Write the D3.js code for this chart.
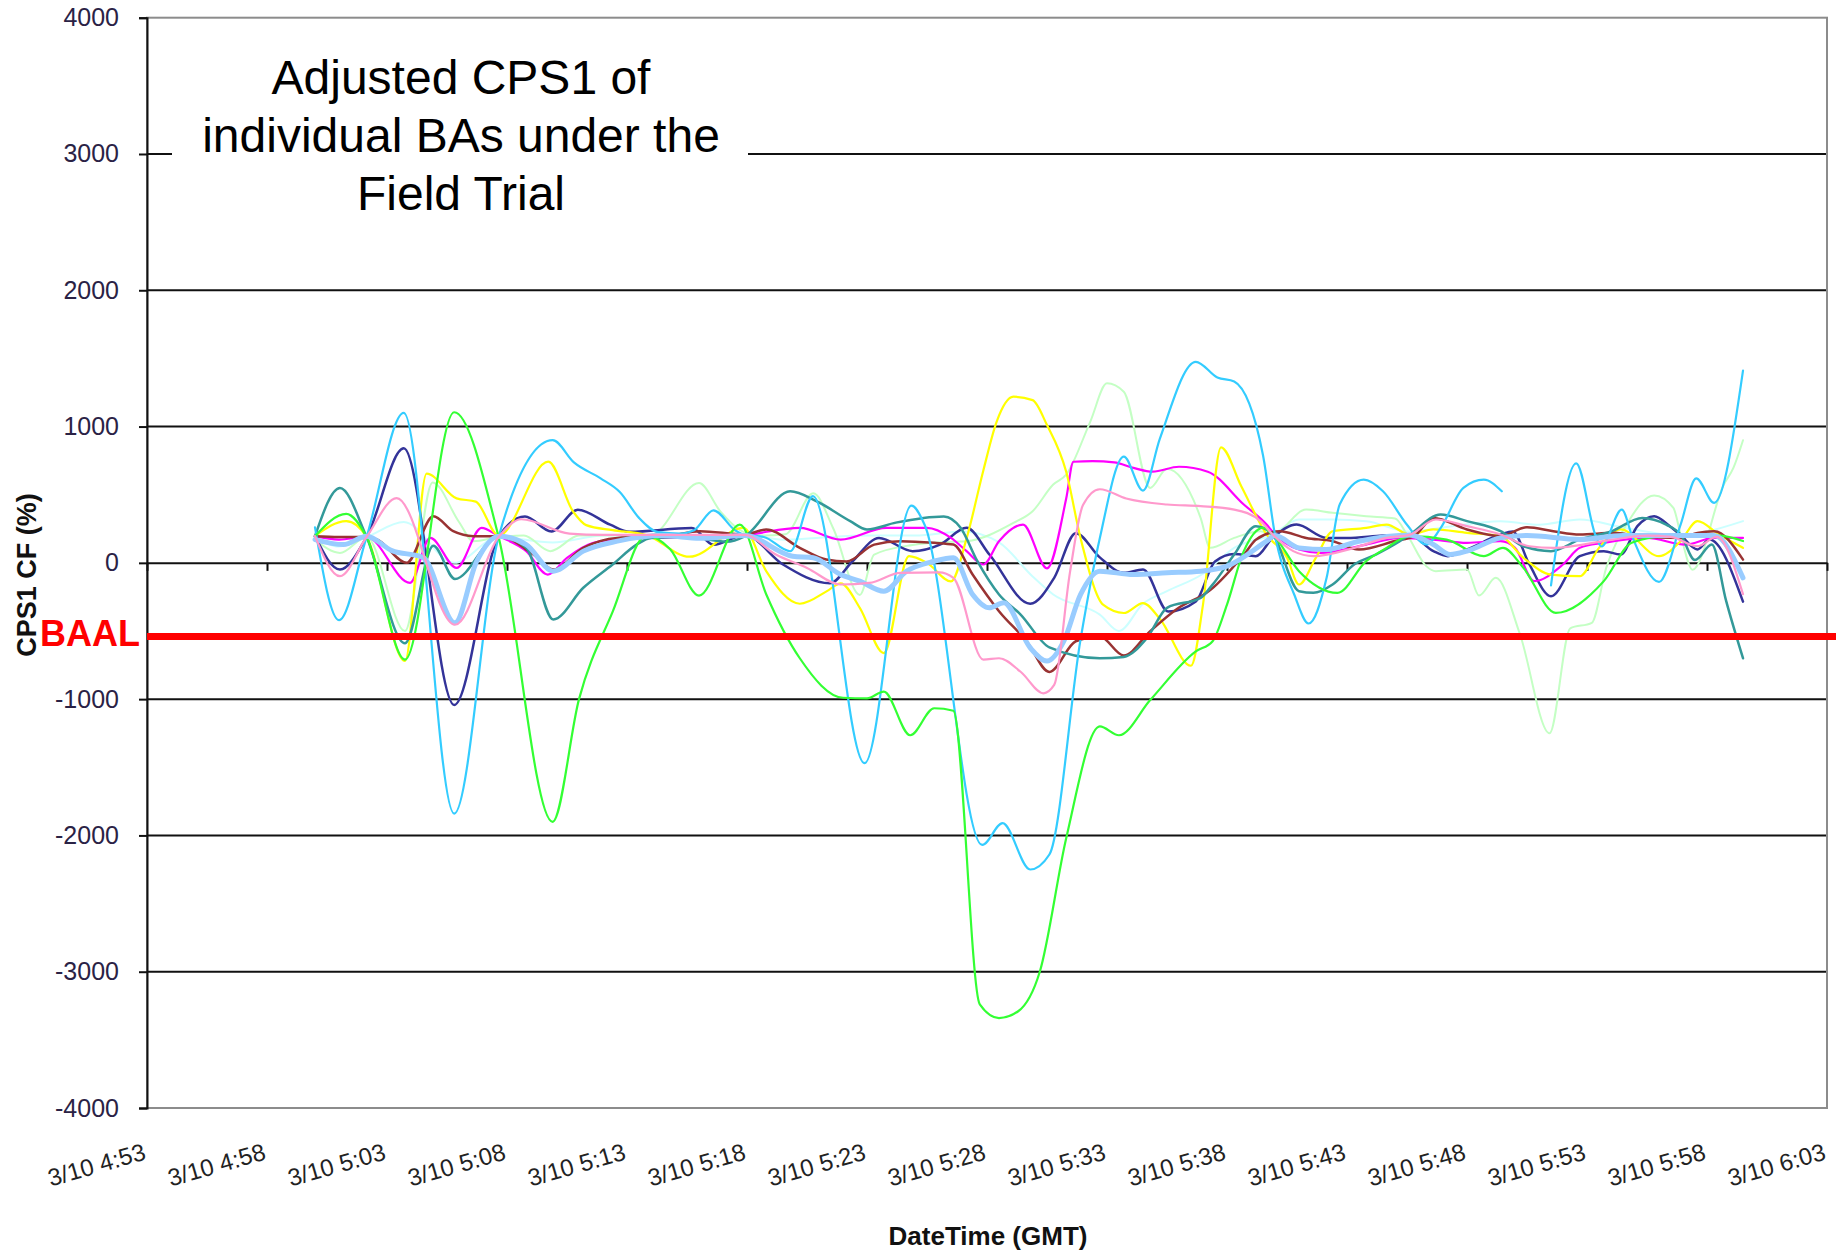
<!DOCTYPE html>
<html><head><meta charset="utf-8">
<script src="https://cdn.jsdelivr.net/npm/d3@7"></script>
<style>html,body{margin:0;padding:0;background:#fff;} svg{display:block;}</style>
</head><body>
<svg id="chart" width="1848" height="1256"></svg>
<script>
// ---------- data ----------
// x values: minutes after 3/10 5:00 (GMT); y values: CPS1 CF (%)
const yTicks = [-4000, -3000, -2000, -1000, 0, 1000, 2000, 3000, 4000];
const xTickMinutes = [-7, -2, 3, 8, 13, 18, 23, 28, 33, 38, 43, 48, 53, 58, 63];
const xTickLabels = ["3/10 4:53", "3/10 4:58", "3/10 5:03", "3/10 5:08", "3/10 5:13", "3/10 5:18", "3/10 5:23",
  "3/10 5:28", "3/10 5:33", "3/10 5:38", "3/10 5:43", "3/10 5:48", "3/10 5:53", "3/10 5:58", "3/10 6:03"];
const baalValue = -540;

const lightCyan = [[0,196],[1,120],[2.15,190],[3.7,300],[5.8,0],[7.65,190],[9.9,150],[12,200],[17.9,205],[19.5,170],[20.9,183],[23,200],[25,200],[27,230],[28.5,150],[29.9,-100],[30.76,-232],[32.7,-380],[33.5,-500],[34.5,-300],[35.5,-208],[37,-80],[38.3,110],[39.9,208],[41,318],[42.4,318],[43.8,306],[45.6,230],[47,260],[49.4,306],[51,280],[52.7,318],[54.5,260],[56.9,200],[58,230],[59.5,306]];
const lightGreen = [[0,171],[1.04,73],[2.15,190],[3.75,-500],[4.9,590],[6,300],[6.6,159],[7.65,190],[8.7,200],[9.8,86],[11,200],[14,205],[16,585],[16.9,375],[17.7,241],[18.5,200],[19.6,210],[20.76,510],[21.6,250],[22.7,-235],[23.3,61],[24.9,131],[26.6,155],[27.15,159],[29.1,293],[29.9,379],[30.76,575],[31.3,648],[32.3,1035],[33,1317],[33.7,1255],[34.8,550],[35.5,690],[36.9,330],[37.3,110],[38.3,183],[39.4,232],[39.9,208],[41.3,391],[42.4,367],[43.8,342],[45,326],[45.5,208],[46.3,-24],[46.7,-61],[48,-49],[48.5,-240],[49.2,-110],[50.2,-520],[51.44,-1250],[52.3,-480],[53.2,-440],[53.8,-37],[54.65,281],[55.8,495],[56.6,403],[56.9,208],[57.4,-50],[58.7,575],[59.1,697],[59.5,900]];
const navy = [[0,196],[1.04,-49],[2.15,190],[3.7,840],[5.8,-1043],[7.65,190],[8.75,340],[9.85,230],[10.95,390],[12.3,280],[13.1,228],[15.7,255],[16.6,133],[17.9,205],[19.5,-12],[21.45,-150],[22.4,12],[23.5,183],[24.9,86],[26.04,134],[27.15,257],[28.1,61],[29.8,-300],[30.8,-110],[31.7,218],[32.7,40],[33.7,-73],[34.5,-49],[35.55,-357],[36.7,-283],[37.5,10],[38.3,65],[39.2,49],[39.9,183],[40.9,281],[42.15,183],[43,183],[44.5,200],[45.6,205],[46.6,86],[47.2,49],[48,98],[49.4,208],[49.9,230],[50.6,-12],[51.5,-245],[52.7,49],[53.7,86],[54.4,61],[55.1,269],[55.8,342],[56.45,269],[56.9,205],[57.6,98],[58.1,171],[59.5,-285]];
const magenta = [[0,196],[1,171],[2.15,190],[3.96,-147],[4.8,183],[5.9,-37],[6.94,257],[7.65,196],[8.8,86],[9.7,-86],[10.5,37],[11.6,147],[12.6,171],[17.9,205],[20.2,257],[21.9,171],[23.8,257],[25.5,257],[26.5,183],[27.15,86],[27.85,-12],[28.5,159],[29.5,281],[30.5,-40],[31.3,472],[31.6,742],[32.4,746],[33.3,737],[34.1,697],[34.9,669],[36,705],[37.2,669],[38.7,428],[39.65,281],[39.9,229],[41,98],[41.9,73],[43.8,134],[45.2,183],[46.6,171],[48,147],[49.4,159],[50,110],[50.8,-134],[52,-12],[52.7,110],[53.7,147],[55.5,183],[57.1,134],[58.3,183],[59.5,183]];
const yellow = [[0,196],[1.3,306],[2.15,190],[3.75,-720],[4.65,655],[5.9,473],[6.7,449],[7.65,200],[9.72,742],[10.76,375],[11.3,277],[12.4,240],[13.8,204],[15.6,45],[17.85,257],[18.8,-61],[20.2,-300],[21.4,-200],[21.9,-150],[22.7,-330],[23.7,-662],[24.75,50],[25.5,0],[26.5,-136],[27.15,180],[27.85,680],[28.4,1035],[29.1,1219],[29.9,1194],[30.5,1011],[31.3,668],[31.9,180],[32.85,-309],[33.7,-368],[34.5,-295],[35.2,-410],[36.5,-755],[37,-306],[37.75,848],[38.6,560],[39.65,208],[40.5,37],[41,-159],[41.7,37],[42.4,232],[43.8,257],[44.65,281],[45.6,208],[46.6,245],[48,220],[49.4,196],[50.35,37],[51.5,-86],[52.7,-98],[53.5,110],[54.4,245],[56,49],[56.9,159],[57.6,306],[58.5,208],[59.5,110]];
const maroon = [[0,196],[1,190],[2.15,190],[2.6,170],[3.82,0],[4.93,342],[5.76,232],[6.6,196],[7.65,196],[9.1,61],[9.93,-49],[11.18,110],[12.6,183],[14.65,196],[16.04,232],[17.9,208],[18.8,245],[20.2,110],[21.3,24],[22.15,10],[23.3,134],[24.4,159],[25.8,147],[26.6,134],[27.4,-86],[28.5,-355],[29.65,-575],[30.6,-800],[31.7,-575],[32.7,-540],[33.7,-680],[34.8,-501],[35.9,-340],[37.3,-200],[38.8,82],[39.2,170],[40.2,232],[41.3,183],[42.4,159],[43.5,98],[45,160],[45.8,196],[46.6,330],[48,245],[49.4,196],[50.5,262],[51.6,232],[52.7,208],[54.1,220],[55.2,196],[56.9,183],[57.6,220],[58.3,232],[59.5,24]];
const teal = [[0,196],[1.04,550],[2.15,190],[3.75,-590],[4.93,125],[5.83,-118],[7.65,196],[8.8,110],[9.93,-416],[11.18,-183],[12.4,-12],[13.4,134],[14,183],[15.5,190],[17.15,155],[17.9,195],[19.8,525],[20.9,452],[22.3,306],[23,245],[24.2,295],[26.2,340],[26.9,257],[27.6,12],[28.5,-232],[29.4,-379],[30.6,-620],[32.7,-700],[33.7,-690],[34.65,-554],[35.5,-330],[36.9,-257],[37.4,-160],[38.3,61],[39.2,269],[39.9,208],[41,-208],[41.6,-220],[42.4,-159],[43.3,-12],[44.2,61],[45.2,159],[45.6,205],[46.9,355],[48,306],[49.4,232],[50.35,122],[51.5,86],[52.7,171],[54,230],[55.3,330],[56.3,281],[56.9,208],[57.5,20],[58.2,134],[58.8,-281],[59.5,-700]];
const skyBlue = [[0,260],[1,-420],[2.15,190],[3.7,1100],[5.8,-1840],[7.65,190],[9.9,900],[10.8,735],[11.9,620],[12.7,520],[13.5,330],[14.3,225],[15.2,215],[15.8,240],[16.6,385],[17.5,240],[17.9,205],[18.7,190],[19.8,85],[20.75,490],[22.9,-1470],[24.85,420],[25.4,280],[27.8,-2070],[28.65,-1910],[29.8,-2250],[30.6,-2140],[31.9,-560],[32.7,180],[33.7,780],[34.5,530],[35.2,910],[36.7,1475],[37.6,1360],[38.3,1330],[39.5,790],[40,205],[40.8,-232],[41.4,-445],[42.15,-110],[42.7,430],[43.7,610],[44.5,525],[45.5,280],[46.3,135],[46.9,255],[47.85,550],[48.7,610],[49.45,525],null,[51.5,-165],[52.55,730],[53.35,204],[53.6,120],[54.45,390],[54.9,185],[56,-140],[56.9,280],[57.55,620],[58.3,440],[59.5,1410]];
const green = [[0,196],[1.3,360],[2.15,190],[3.75,-710],[5.8,1105],[7.65,190],[9.9,-1900],[11,-1000],[12.4,-360],[13.8,200],[14.8,100],[16,-240],[17.7,280],[18.8,-230],[20.2,-700],[22,-990],[23,-995],[23.7,-945],[24.8,-1265],[25.8,-1067],[26.6,-1085],[27.7,-3240],[28.5,-3340],[29.3,-3290],[30.2,-3000],[31.3,-2020],[32.7,-1200],[33.5,-1265],[34.8,-1007],[36.7,-650],[37.4,-575],[38,-306],[38.7,86],[39.5,257],[39.9,208],[41,-61],[42.6,-220],[43.8,12],[44.65,110],[45.6,196],[47.15,171],[48.7,49],[49.5,110],[50.35,-37],[51.7,-367],[53.7,-134],[54.86,147],[56.3,196],[57.5,190],[58.5,200],[59.5,160]];
const paleBlue = [[0,171],[1.18,134],[2.15,196],[3.2,90],[4.5,40],[5.83,-440],[6.74,12],[7.65,196],[8.8,134],[9.93,-61],[11.18,86],[12.6,159],[14.5,200],[16.04,180],[17.9,200],[19.9,49],[20.76,37],[21.9,-86],[22.7,-134],[23.7,-208],[24.65,-61],[25.8,12],[26.6,37],[27.4,-232],[28.1,-330],[28.7,-293],[29.8,-623],[30.5,-721],[31.2,-575],[31.9,-232],[32.7,-61],[34.1,-86],[35.5,-73],[36.9,-61],[38,-24],[39.65,159],[40,200],[41,110],[42.15,98],[43.5,159],[45.6,205],[46.6,134],[47.3,61],[48,86],[49.4,183],[50.5,200],[52.7,171],[54.5,200],[56.9,200],[58.3,200],[59.5,-110]];
const pink = [[0,196],[1.04,-98],[2.15,190],[3.4,475],[5.83,-454],[7.65,190],[8.6,320],[10.6,215],[12,205],[17.9,205],[19.2,61],[20.5,-37],[21.9,-159],[23.1,-147],[24.4,-73],[26,-70],[26.6,-110],[27.85,-710],[28.5,-700],[29.4,-799],[30.35,-957],[30.8,-896],[31.46,-66],[32,424],[32.7,540],[33.8,472],[35.5,428],[36.9,416],[38.3,391],[39.4,306],[39.9,208],[40.76,86],[41.6,49],[43.3,110],[44.65,183],[45.6,205],[46.7,318],[48,269],[49.4,208],[50.6,122],[51.6,110],[54.1,171],[55.5,200],[56.5,190],[57.6,122],[58.4,190],[59.5,-230]];

const seriesList = [
  {data: lightCyan,  color: "#ccffff", width: 2},
  {data: lightGreen, color: "#c4ffc4", width: 2},
  {data: navy,       color: "#333399", width: 2.5},
  {data: magenta,    color: "#ff00ff", width: 2.2},
  {data: yellow,     color: "#ffff00", width: 2.2},
  {data: maroon,     color: "#993333", width: 2.5},
  {data: teal,       color: "#339999", width: 2.5},
  {data: skyBlue,    color: "#33ccff", width: 2.2},
  {data: green,      color: "#33ff33", width: 2.2},
  {data: paleBlue,   color: "#99ccff", width: 5},
  {data: pink,       color: "#ff99cc", width: 2.2}
];

// ---------- layout ----------
const plotL = 147, plotR = 1827, plotT = 17.7, plotB = 1108;
const svg = d3.select("#chart");
const font = "'Liberation Sans', Arial, sans-serif";

const x = d3.scaleLinear().domain([-7, 63]).range([plotL, plotR]);
const y = d3.scaleLinear().domain([-4000, 4000]).range([plotB, plotT]);

// gridlines
svg.append("g").selectAll("line")
  .data(yTicks.filter(v => v > -4000 && v < 4000 && v !== 0))
  .join("line")
  .attr("x1", plotL).attr("x2", plotR)
  .attr("y1", d => y(d)).attr("y2", d => y(d))
  .attr("stroke", "#111").attr("stroke-width", 2);

// plot border
svg.append("rect").attr("x", plotL).attr("y", plotT).attr("width", plotR - plotL).attr("height", plotB - plotT)
  .attr("fill", "none").attr("stroke", "#8c8c8c").attr("stroke-width", 2);

// text box (covers part of the 3000 gridline)
svg.append("rect").attr("x", 172).attr("y", 38).attr("width", 576).attr("height", 188).attr("fill", "#fff");
const boxLines = ["Adjusted CPS1 of", "individual BAs under the", "Field Trial"];
svg.append("g").selectAll("text").data(boxLines).join("text")
  .attr("x", 461).attr("y", (d, i) => 94 + i * 57.8)
  .attr("text-anchor", "middle").attr("font-family", font).attr("font-size", 48).attr("fill", "#000")
  .text(d => d);

// y axis
const yAxis = svg.append("g").attr("transform", `translate(${plotL},0)`)
  .call(d3.axisLeft(y).tickValues(yTicks).tickSize(8).tickPadding(20).tickFormat(d => String(d)));
yAxis.select(".domain").attr("stroke", "#111").attr("stroke-width", 2);
yAxis.selectAll(".tick line").attr("stroke", "#111").attr("stroke-width", 2);
yAxis.selectAll("text").attr("font-family", font).attr("font-size", 25).attr("fill", "#2a2245");

// zero (category) axis with ticks
const xAxis = svg.append("g").attr("transform", `translate(0,${y(0)})`)
  .call(d3.axisBottom(x).tickValues(xTickMinutes).tickSize(8).tickSizeOuter(0).tickFormat(""));
xAxis.select(".domain").attr("stroke", "#111").attr("stroke-width", 2);
xAxis.selectAll(".tick line").attr("stroke", "#111").attr("stroke-width", 2);

// x tick labels (rotated, at the bottom)
svg.append("g").selectAll("text").data(xTickMinutes).join("text")
  .attr("transform", d => `translate(${x(d)},${plotB + 51}) rotate(-16)`)
  .attr("text-anchor", "end").attr("font-family", font).attr("font-size", 24).attr("fill", "#222")
  .text((d, i) => xTickLabels[i]);

// series lines
const line = d3.line()
  .defined(d => d !== null)
  .x(d => x(d[0])).y(d => y(d[1]))
  .curve(d3.curveMonotoneX);
svg.append("g").selectAll("path").data(seriesList).join("path")
  .attr("d", s => line(s.data))
  .attr("fill", "none")
  .attr("stroke", s => s.color)
  .attr("stroke-width", s => s.width)
  .attr("stroke-linejoin", "round").attr("stroke-linecap", "round");

// BAAL line and label
svg.append("line").attr("x1", plotL).attr("x2", plotR + 9)
  .attr("y1", y(baalValue)).attr("y2", y(baalValue))
  .attr("stroke", "#ff0000").attr("stroke-width", 7);
svg.append("text").attr("x", 40).attr("y", 646)
  .attr("font-family", font).attr("font-weight", "bold").attr("font-size", 36).attr("fill", "#ff0000")
  .text("BAAL");

// axis titles
svg.append("text").attr("transform", `translate(36,575) rotate(-90)`)
  .attr("text-anchor", "middle").attr("font-family", font).attr("font-weight", "bold").attr("font-size", 27).attr("fill", "#111")
  .text("CPS1 CF (%)");
svg.append("text").attr("x", 988).attr("y", 1245)
  .attr("text-anchor", "middle").attr("font-family", font).attr("font-weight", "bold").attr("font-size", 26).attr("fill", "#111")
  .text("DateTime (GMT)");
</script>
</body></html>
